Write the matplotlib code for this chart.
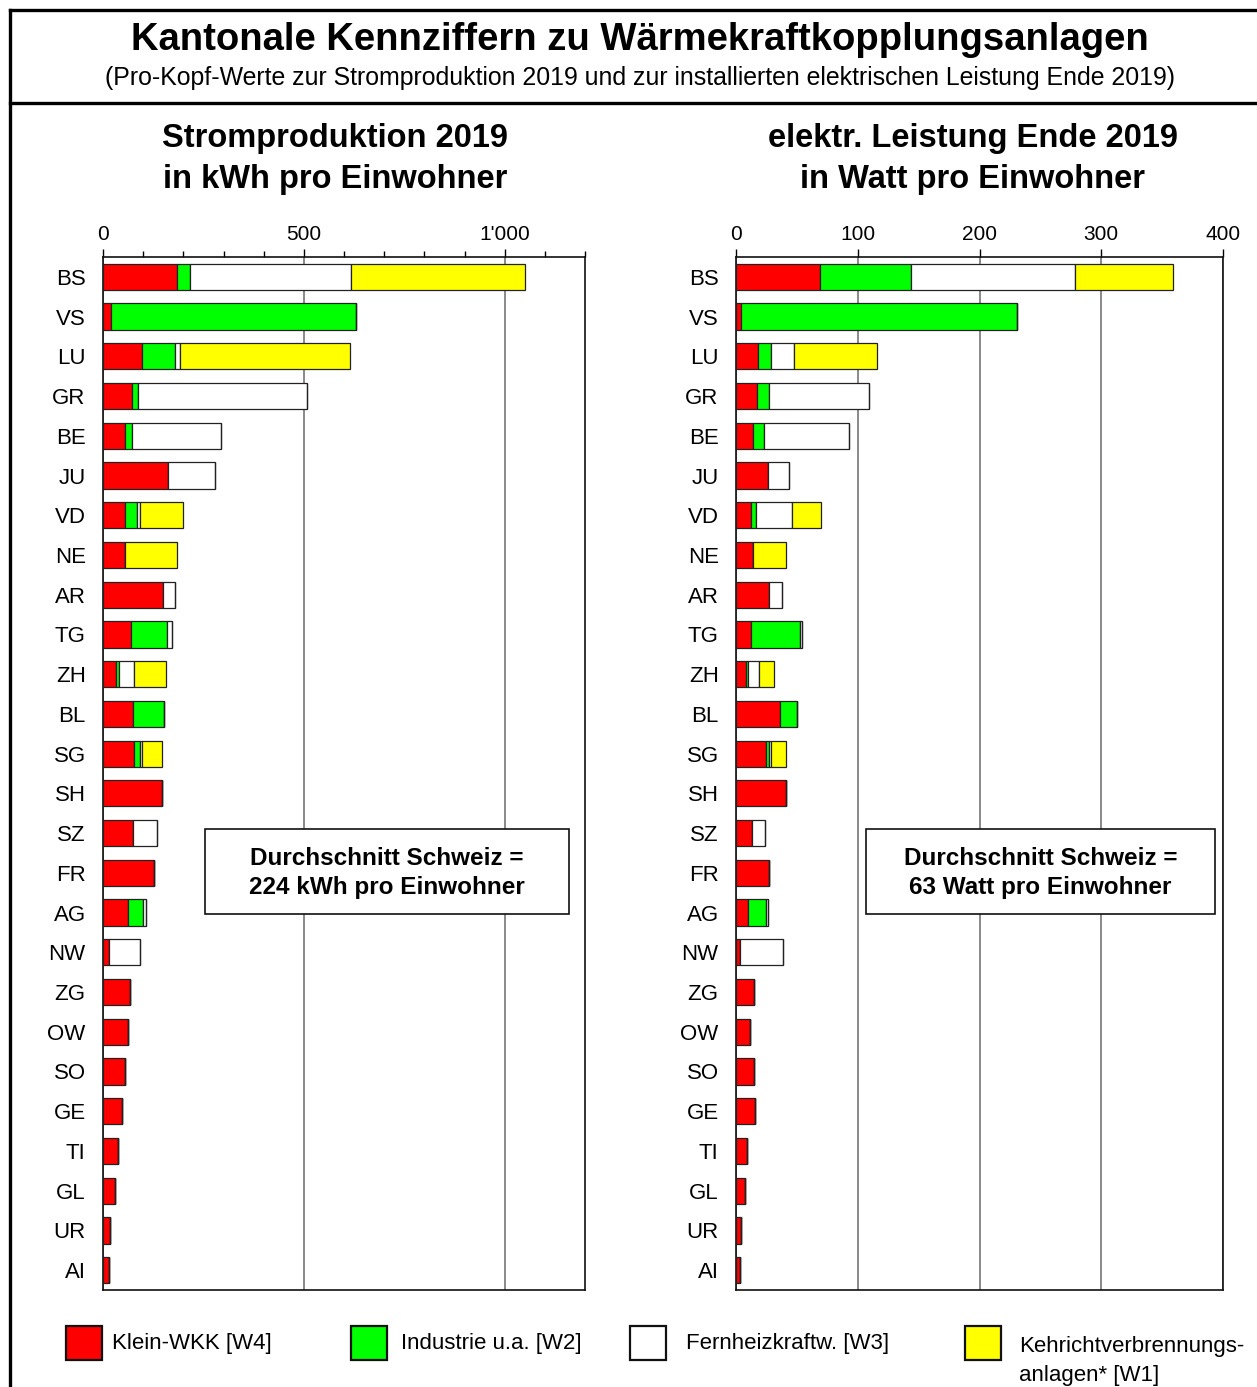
import matplotlib
matplotlib.use("Agg")
import matplotlib.pyplot as plt
from matplotlib.patches import Rectangle
from matplotlib.lines import Line2D
from matplotlib.ticker import MultipleLocator, FixedLocator, FuncFormatter

plt.rcParams["font.family"] = ["Liberation Sans", "DejaVu Sans"]

cantons = ["BS", "VS", "LU", "GR", "BE", "JU", "VD", "NE", "AR", "TG", "ZH", "BL", "SG",
           "SH", "SZ", "FR", "AG", "NW", "ZG", "OW", "SO", "GE", "TI", "GL", "UR", "AI"]

# Stromproduktion 2019, kWh pro Einwohner
klein_kwh = [183, 20, 98, 72, 56, 161, 56, 56, 149, 69, 33, 74, 78,
             148, 75, 127, 63, 15, 68, 61, 55, 48, 37, 31, 18, 15]
industrie_kwh = [34, 609, 81, 15, 15, 0, 29, 0, 0, 91, 8, 79, 13,
                 0, 0, 0, 36, 0, 0, 0, 0, 0, 0, 0, 0, 0]
fernheiz_kwh = [400, 0, 12, 420, 224, 118, 6, 0, 30, 13, 35, 0, 6,
                0, 60, 0, 8, 76, 0, 0, 0, 0, 0, 0, 0, 0]
kva_kwh = [433, 0, 424, 0, 0, 0, 107, 127, 0, 0, 82, 0, 51,
           0, 0, 0, 0, 0, 0, 0, 0, 0, 0, 0, 0, 0]

# elektr. Leistung Ende 2019, Watt pro Einwohner
klein_w = [69, 4.5, 18, 17.4, 14.2, 26.2, 12.6, 14.2, 26.8, 12.6, 8.4, 36.5, 24.9,
           40.7, 13.2, 26.8, 10, 3.2, 14.5, 11.6, 14.9, 15.2, 8.7, 7.4, 4.2, 3.6]
industrie_w = [75, 226, 11, 9.7, 8.7, 0, 3.9, 0, 0, 39.7, 1.6, 13.3, 1.9,
               0, 0, 0, 14.9, 0, 0, 0, 0, 0, 0, 0, 0, 0]
fernheiz_w = [134.7, 0, 18.8, 82, 69.8, 17, 29.4, 0, 10.7, 2.3, 9, 0, 2.3,
              0, 10.3, 0, 1, 35.5, 0, 0, 0, 0, 0, 0, 0, 0]
kva_w = [80.5, 0, 68, 0, 0, 0, 23.9, 26.8, 0, 0, 12.3, 0, 12,
         0, 0, 0, 0, 0, 0, 0, 0, 0, 0, 0, 0, 0]

colors = ["#ff0000", "#00ff00", "#ffffff", "#ffff00"]
legend_labels = ["Klein-WKK [W4]", "Industrie u.a. [W2]", "Fernheizkraftw. [W3]",
                 "Kehrichtverbrennungs-\nanlagen* [W1]"]

W, H = 1257, 1387
fig = plt.figure(figsize=(W / 100, H / 100), dpi=100)


def fx(px):
    return px / W


def fy(py):
    return 1 - py / H


def stacked(ax, series):
    y = list(range(len(cantons)))
    left = [0] * len(cantons)
    for vals, col in zip(series, colors):
        ax.barh(y, vals, left=left, height=0.66, color=col, edgecolor="#222222",
                linewidth=0.9, zorder=3)
        left = [a + b for a, b in zip(left, vals)]
    ax.set_yticks(y)
    ax.set_yticklabels(cantons, fontsize=16)
    ax.set_ylim(len(cantons) - 0.5, -0.5)
    ax.tick_params(axis="y", left=False, pad=9)
    ax.xaxis.tick_top()
    ax.tick_params(axis="x", which="major", direction="out", length=6, width=1,
                   labelsize=15, pad=3.7)
    ax.tick_params(axis="x", which="minor", direction="out", length=4, width=1)
    ax.set_axisbelow(True)
    ax.xaxis.grid(True, which="major", color="#808080", linewidth=1.3)
    for sp in ax.spines.values():
        sp.set_color("#111111")
        sp.set_linewidth(1.2)


ax1 = fig.add_axes([fx(103), fy(1290), fx(585) - fx(103), fy(257) - fy(1290)])
stacked(ax1, [klein_kwh, industrie_kwh, fernheiz_kwh, kva_kwh])
ax1.set_xlim(0, 1200)
ax1.xaxis.set_major_locator(FixedLocator([0, 500, 1000]))
ax1.xaxis.set_minor_locator(MultipleLocator(100))
ax1.xaxis.set_major_formatter(FuncFormatter(lambda v, p: f"{int(v):,}".replace(",", "'")))

ax2 = fig.add_axes([fx(736), fy(1290), fx(1223) - fx(736), fy(257) - fy(1290)])
stacked(ax2, [klein_w, industrie_w, fernheiz_w, kva_w])
ax2.set_xlim(0, 400)
ax2.xaxis.set_major_locator(MultipleLocator(100))

# average boxes
for ax, x0, x1, txt in [(ax1, 205, 569, "Durchschnitt Schweiz =\n224 kWh pro Einwohner"),
                        (ax2, 866, 1215, "Durchschnitt Schweiz =\n63 Watt pro Einwohner")]:
    fig.patches.append(Rectangle((fx(x0), fy(914)), fx(x1) - fx(x0), fy(829) - fy(914),
                                 transform=fig.transFigure, facecolor="white",
                                 edgecolor="#111111", linewidth=1.2, zorder=5))
    fig.text(fx((x0 + x1) / 2), fy(873), txt, ha="center", va="center", fontsize=17.5,
             fontweight="bold", linespacing=1.32, zorder=6)

# titles
fig.text(fx(640), fy(40), "Kantonale Kennziffern zu Wärmekraftkopplungsanlagen",
         ha="center", va="center", fontsize=27.5, fontweight="bold")
fig.text(fx(640), fy(78), "(Pro-Kopf-Werte zur Stromproduktion 2019 und zur installierten "
         "elektrischen Leistung Ende 2019)", ha="center", va="center", fontsize=17.9)
fig.text(fx(335), fy(159), "Stromproduktion 2019\nin kWh pro Einwohner",
         ha="center", va="center", fontsize=23.5, fontweight="bold", linespacing=1.4)
fig.text(fx(973), fy(159), "elektr. Leistung Ende 2019\nin Watt pro Einwohner",
         ha="center", va="center", fontsize=23.5, fontweight="bold", linespacing=1.4)

# frame lines
for xs, ys in [([10, 10], [10, H]), ([10, W], [10, 10]), ([10, W], [103, 103])]:
    fig.add_artist(Line2D([fx(v) for v in xs], [fy(v) for v in ys], color="black",
                          linewidth=2.4, transform=fig.transFigure))

# legend
for px0, tx, col, lab in zip([66, 351, 630, 965], [112, 401, 686, 1019], colors, legend_labels):
    fig.patches.append(Rectangle((fx(px0), fy(1360)), fx(36) - fx(0), fy(1326) - fy(1360),
                                 transform=fig.transFigure, facecolor=col,
                                 edgecolor="#111111", linewidth=1.6))
    if "\n" in lab:
        fig.text(fx(tx), fy(1361), lab, ha="left", va="center", fontsize=16,
                 linespacing=1.45)
    else:
        fig.text(fx(tx), fy(1344), lab, ha="left", va="center", fontsize=16)

fig.savefig("out.png", dpi=100)
